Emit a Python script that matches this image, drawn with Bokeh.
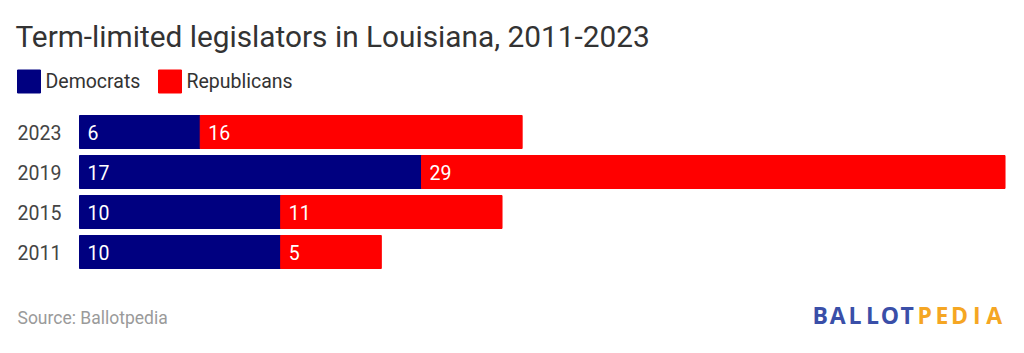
from bokeh.plotting import figure
from bokeh.models import Range1d, ColumnDataSource, Label
from bokeh.core.properties import value
from bokeh.embed import file_html
from bokeh.resources import INLINE

years = ["2023", "2019", "2015", "2011"]
democrats = [6, 17, 10, 10]
republicans = [16, 29, 11, 5]
title_text = "Term-limited legislators in Louisiana, 2011-2023"
series_names = ["Democrats", "Republicans"]
colors = ["#000080", "#ff0000"]

W, H = 1024, 353
PX = 20.12          # pixels per legislator
X0 = 79             # screen x of value 0
FONT = "Roboto"

def dx(px):
    return (px - X0) / PX

p = figure(width=W, height=H, output_backend="svg", toolbar_location=None,
           x_range=Range1d(dx(0), dx(W)), y_range=Range1d(H, 0),
           min_border=0, outline_line_color=None)
p.axis.visible = False
p.grid.visible = False
p.background_fill_color = "white"
p.border_fill_color = "white"

ys = [131.5 + 40 * i for i in range(len(years))]
src = ColumnDataSource(dict(
    y=ys, year=years,
    dem=democrats, rep=republicans,
    tot=[d + r for d, r in zip(democrats, republicans)],
    dem_lbl=[str(v) for v in democrats],
    rep_lbl=[str(v) for v in republicans],
    dem_x=[dx(X0 + 8)] * len(years),
    rep_x=[d + 8 / PX for d in democrats],
    year_x=[dx(17)] * len(years),
))

p.hbar(y="y", left=0, right="dem", height=33, color=colors[0], source=src)
p.hbar(y="y", left="dem", right="tot", height=33, color=colors[1], source=src)

p.text(x="dem_x", y="y", text="dem_lbl", source=src, text_color="white",
       text_font=value(FONT), text_font_size="19.5px", text_baseline="middle")
p.text(x="rep_x", y="y", text="rep_lbl", source=src, text_color="white",
       text_font=value(FONT), text_font_size="19.5px", text_baseline="middle")
p.text(x="year_x", y="y", text="year", source=src, text_color="#444444",
       text_font=value(FONT), text_font_size="19.5px", text_baseline="middle")

# title
p.add_layout(Label(x=15, y=H - 36, x_units="screen", y_units="screen",
                   text=title_text, text_font=FONT, text_font_size="29.8px",
                   text_color="#333333", text_baseline="middle"))

# legend
leg_x = [17, 158]
for i, name in enumerate(series_names):
    p.rect(x=dx(leg_x[i] + 11.5), y=81, width=23 / PX, height=23,
           color=colors[i])
    p.add_layout(Label(x=leg_x[i] + 28, y=H - 81, x_units="screen", y_units="screen",
                       text=name, text_font=FONT, text_font_size="19.5px",
                       text_color="#333333", text_baseline="middle"))

# source
p.add_layout(Label(x=17, y=H - 317, x_units="screen", y_units="screen",
                   text="Source: Ballotpedia", text_font=FONT, text_font_size="17.5px",
                   text_color="#9a9a9a", text_baseline="middle"))

# logo
logo = [("BALLOT", "#3a4fa8"), ("PEDIA", "#f5a623")]
lx = 811
step = 17.4
for word, col in logo:
    for ch in word:
        p.add_layout(Label(x=lx + step / 2, y=H - 314, x_units="screen", y_units="screen",
                           text=ch, text_font="Open Sans", text_font_style="bold",
                           text_font_size="23px", text_color=col,
                           text_baseline="middle", text_align="center"))
        lx += step

open("out.html", "w").write(file_html(p, INLINE))
